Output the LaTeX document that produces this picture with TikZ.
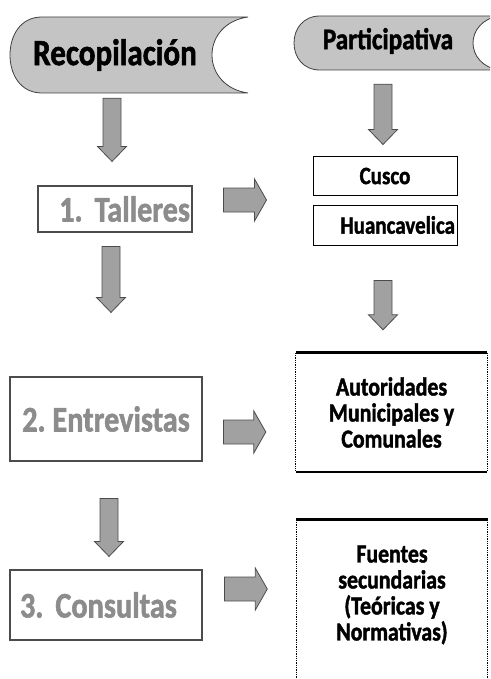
\documentclass[tikz,border=0pt]{standalone}
\usepackage{fontspec}
\setmainfont{Carlito}[FakeStretch=0.84, BoldFeatures={FakeBold=1.5}]
\usetikzlibrary{calc}
\frenchspacing

\begin{document}
\begin{tikzpicture}[x=1pt, y=1pt,
  shapefill/.style={draw=black!75, fill=black!23, line width=0.8pt},
  title/.style={inner sep=0pt, font=\bfseries\fontsize{37}{42}\selectfont},
  graybox/.style={draw=black!70, line width=1.1pt, inner sep=0pt, text=black!45, font=\bfseries\fontsize{36}{40}\selectfont},
  whitebox/.style={draw=black, line width=1pt, inner sep=0pt, minimum width=144pt, font=\bfseries\fontsize{25}{28}\selectfont},
  dotbox/.style={inner sep=0pt, minimum width=191pt, align=center, font=\bfseries\fontsize{26}{26}\selectfont},
  topedge/.style={line width=3pt},
  dotedge/.style={densely dotted, line width=1.3pt},
  blockarrow/.style={draw=black!70, fill=black!37, line width=0.8pt},
  downarrow/.style={blockarrow, to path={let \p1=(\tikztostart), \p2=(\tikztotarget) in
    (\x1-9pt,\y1) -- (\x1+9pt,\y1) -- (\x1+9pt,\y2+15pt) -- (\x1+14.5pt,\y2+15pt) -- (\x1,\y2)
    -- (\x1-14.5pt,\y2+15pt) -- (\x1-9pt,\y2+15pt) -- cycle}},
  rightarrow/.style={blockarrow, to path={let \p1=(\tikztostart), \p2=(\tikztotarget) in
    (\x1,\y1-12pt) -- (\x2-12pt,\y1-12pt) -- (\x2-12pt,\y1-21pt) -- (\x2,\y1)
    -- (\x2-12pt,\y1+21pt) -- (\x2-12pt,\y1+12pt) -- (\x1,\y1+12pt) -- cycle}}]
\useasboundingbox (0,0) rectangle (490,-679);
\clip (0,0) rectangle (490,-679);

% cabeceras
\draw[shapefill] (42,-17) .. controls (20,-17) and (10,-36) .. (10,-55) .. controls (10,-74) and (20,-93) .. (42,-93)
  -- (248,-93) .. controls (226,-90) and (212,-74) .. (212,-55) .. controls (212,-36) and (226,-20) .. (248,-17) -- cycle;
\draw[shapefill] (320,-16) .. controls (303,-16) and (294,-29) .. (294,-43) .. controls (294,-57) and (303,-70) .. (320,-70)
  -- (500,-70) .. controls (482,-68) and (473,-55) .. (473,-43) .. controls (473,-31) and (482,-18) .. (500,-16) -- cycle;
\node[title, minimum height=76pt] (rec) at (115,-55) {Recopilación};
\node[title, minimum height=54pt, font=\bfseries\fontsize{30}{34}\selectfont] (part) at (388,-41) {Participativa};

% columna izquierda
\node[graybox, minimum width=154pt, minimum height=46pt, text width=150pt, inner xsep=2pt, align=right] (tall) at (115,-209) {1. Talleres};
\node[graybox, minimum width=192pt, minimum height=84pt] (entr) at (106,-419) {2. Entrevistas};
\node[graybox, minimum width=192pt, minimum height=70pt, text width=172pt, inner xsep=10pt, align=left] (cons) at (106,-605) {3. Consultas};

% columna derecha
\node[whitebox, minimum height=38pt] (cusco) at (385,-176) {Cusco};
\node[whitebox, minimum height=40pt, text width=140pt, inner xsep=2pt, align=right] (huan) at (385,-225) {Huancavelica};
\node[dotbox, minimum height=119pt] (aut) at (391.5,-412.5) {Autoridades\\Municipales y\\Comunales};
\node[dotbox, minimum height=150pt] (fuen) at (392,-595) {Fuentes\\secundarias\\(Teóricas y\\Normativas)};
\draw[topedge] (aut.north west) -- (aut.north east);
\draw[line width=2pt] (aut.south west) -- (aut.south east);
\draw[dotedge] (aut.north west) -- (aut.south west) (aut.north east) -- (aut.south east);
\draw[topedge] (fuen.north west) -- (fuen.north east);
\draw[dotedge] (fuen.north west) -- ([yshift=-30pt]fuen.south west) (fuen.north east) -- ([yshift=-30pt]fuen.south east);

% flechas
\draw[downarrow] ($(rec.south)+(-3,-5)$) to ($(tall.north)+(0,24)$);
\draw[downarrow] ($(tall.south)+(-4,-14)$) to ($(entr.north)+(0,64)$);
\draw[downarrow] ($(entr.south)+(3,-37)$) to ($(cons.north)+(0,13)$);
\draw[downarrow] ($(part.south)+(-5,-16)$) to ($(cusco.north)+(0,12)$);
\draw[downarrow] ($(huan.south)+(-2,-35)$) to ($(aut.north)+(0,23)$);
\draw[rightarrow] ($(tall.east)+(31,9)$) to ($(cusco.south west)+(-46,0)$);
\draw[rightarrow] ($(entr.east)+(21,-13)$) to ($(aut.west)+(-30,0)$);
\draw[rightarrow] ($(cons.east)+(22,16)$) to ($(fuen.west)+(-29,0)$);
\end{tikzpicture}
\end{document}
